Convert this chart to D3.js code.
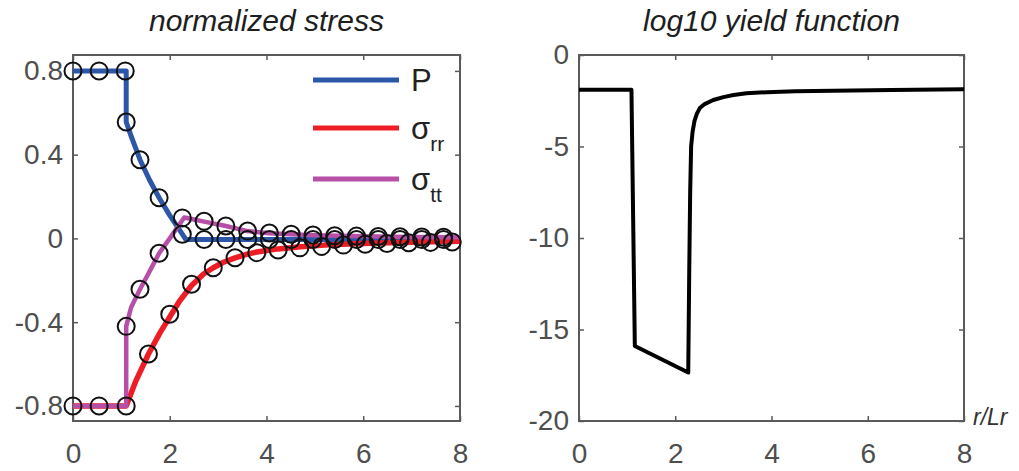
<!DOCTYPE html>
<html lang="en">
<head>
<meta charset="UTF-8">
<title>normalized stress / log10 yield function</title>
<script src="https://cdn.jsdelivr.net/npm/d3@7"></script>
<style>
    body { margin: 0; background: #ffffff; }
    svg { display: block; font-family: "Liberation Sans", Arial, sans-serif; }
    .tick text { fill: #4e4e4e; font-size: 28px; }
    .tick line { stroke: #5a5a5a; stroke-width: 1.5px; }
    .title { font-style: italic; font-size: 30px; fill: #1e1e1e; }
</style>
</head>
<body>
<svg id="chart" width="1019" height="471"></svg>
<script>
// ---- data ----
// left panel: lines
const pR      = [0, 1.1, 1.1, 1.2, 1.385, 1.58, 1.78, 2.0, 2.26, 2.33, 3, 4, 5, 6, 7, 8];
const pVal    = [0.8, 0.8, 0.556, 0.49, 0.376, 0.28, 0.194, 0.11, 0.02, -0.005, -0.005, -0.005, -0.005, -0.005, -0.005, -0.005];
const srrR    = [0, 1.1, 1.3, 1.56, 1.8, 2.0, 2.2, 2.45, 2.7, 2.9, 3.1, 3.35, 3.6, 3.8, 4.24, 4.7, 5.2, 5.8, 6.5, 7.2, 8];
const srrVal  = [-0.8, -0.8, -0.68, -0.552, -0.45, -0.375, -0.3, -0.225, -0.17, -0.14, -0.115, -0.093, -0.075, -0.065, -0.05, -0.04, -0.032, -0.026, -0.021, -0.017, -0.014];
const sttR    = [0, 1.1, 1.1, 1.2, 1.385, 1.6, 1.78, 2.0, 2.3, 2.5, 2.71, 3.16, 3.61, 4.06, 4.5, 5, 6, 7, 8];
const sttVal  = [-0.8, -0.8, -0.42, -0.33, -0.243, -0.15, -0.071, 0.0, 0.1, 0.09, 0.08, 0.059, 0.035, 0.025, 0.02, 0.015, 0.01, 0.007, 0.005];

// left panel: circle markers
const pMarkR    = [0, 0.54, 1.08, 1.1, 1.385, 1.78, 2.26, 2.71, 3.16, 3.61, 4.06, 4.51, 4.96, 5.41, 5.86, 6.31, 6.76, 7.21, 7.66];
const pMarkVal  = [0.8, 0.8, 0.8, 0.556, 0.376, 0.194, 0.02, -0.005, -0.005, -0.005, -0.005, -0.005, -0.005, -0.005, -0.005, -0.005, -0.005, -0.005, -0.005];
const srrMarkR  = [0, 0.54, 1.1, 1.56, 2.0, 2.45, 2.9, 3.35, 3.8, 4.24, 4.69, 5.14, 5.59, 6.04, 6.49, 6.94, 7.39, 7.84];
const srrMarkVal= [-0.8, -0.8, -0.8, -0.552, -0.362, -0.219, -0.14, -0.092, -0.068, -0.055, -0.045, -0.038, -0.032, -0.028, -0.024, -0.021, -0.019, -0.017];
const sttMarkR  = [1.1, 1.385, 1.78, 2.26, 2.71, 3.16, 3.61, 4.06, 4.51, 4.96, 5.41, 5.86, 6.31, 6.76, 7.21, 7.66];
const sttMarkVal= [-0.42, -0.243, -0.071, 0.098, 0.082, 0.059, 0.035, 0.026, 0.02, 0.016, 0.013, 0.011, 0.009, 0.008, 0.007, 0.006];

// right panel: log10 yield function
const yfR   = [0, 1.09, 1.16, 2.27, 2.29, 2.31, 2.33, 2.36, 2.40, 2.45, 2.51, 2.6, 2.79, 3.0, 3.21, 3.48, 3.9, 4.5, 5.28, 6.5, 8];
const yfVal = [-1.9, -1.9, -15.9, -17.35, -12, -7.5, -5.0, -4.2, -3.6, -3.2, -2.9, -2.7, -2.46, -2.3, -2.19, -2.09, -2.03, -1.98, -1.95, -1.91, -1.87];

const xTicks     = [0, 2, 4, 6, 8];
const leftTicks  = [-0.8, -0.4, 0, 0.4, 0.8];
const leftLabels = ["-0.8", "-0.4", "0", "0.4", "0.8"];
const rightTicks = [-20, -15, -10, -5, 0];

const legendNames = ["P", "σ", "σ"];
const legendSubs  = ["", "rr", "tt"];
const colors = { p: "#2c56a7", srr: "#ee1d25", stt: "#b74fa9" };

const svg = d3.select("#chart");

// axes boxes
const L = { left: 73, right: 460, top: 55, bottom: 421 };
const R = { left: 579, right: 964, top: 55, bottom: 421 };

const xL = d3.scaleLinear().domain([0, 8]).range([L.left, L.right]);
const yL = d3.scaleLinear().domain([-0.872, 0.876]).range([L.bottom, L.top]);
const xR = d3.scaleLinear().domain([0, 8]).range([R.left, R.right]);
const yR = d3.scaleLinear().domain([-20, 0]).range([R.bottom, R.top]);

const plain = d => String(d);   // hyphen minus like the original

function drawFrame(b, x, y, yt, yFmt) {
    const g = svg.append("g");
    g.append("g").attr("transform", `translate(0,${b.bottom})`)
        .call(d3.axisBottom(x).tickValues(xTicks).tickSize(-5).tickSizeOuter(0).tickPadding(22).tickFormat(plain));
    g.append("g").attr("transform", `translate(0,${b.top})`)
        .call(d3.axisTop(x).tickValues(xTicks).tickSize(-5).tickSizeOuter(0).tickFormat(""));
    g.append("g").attr("transform", `translate(${b.left},0)`)
        .call(d3.axisLeft(y).tickValues(yt).tickSize(-5).tickSizeOuter(0).tickPadding(10).tickFormat(yFmt));
    g.append("g").attr("transform", `translate(${b.right},0)`)
        .call(d3.axisRight(y).tickValues(yt).tickSize(-5).tickSizeOuter(0).tickFormat(""));
    g.selectAll(".domain").remove();
    g.append("rect")
        .attr("x", b.left).attr("y", b.top)
        .attr("width", b.right - b.left).attr("height", b.bottom - b.top)
        .attr("fill", "none").attr("stroke", "#5a5a5a").attr("stroke-width", 2);
    return g;
}

drawFrame(L, xL, yL, leftTicks, (d, i) => leftLabels[i]);
drawFrame(R, xR, yR, rightTicks, plain);

// titles
svg.append("text").attr("class", "title")
    .attr("x", (L.left + L.right) / 2).attr("y", 31).attr("text-anchor", "middle")
    .text("normalized stress");
svg.append("text").attr("class", "title")
    .attr("x", (R.left + R.right) / 2).attr("y", 31).attr("text-anchor", "middle")
    .text("log10 yield function");
svg.append("text")
    .attr("x", 973).attr("y", 425)
    .attr("font-size", 23).attr("font-style", "italic").attr("fill", "#333")
    .text("r/Lr");

// left lines
const lineLin = d3.line().x(d => xL(d[0])).y(d => yL(d[1]));
const series = [
    { r: pR, v: pVal, c: colors.p, w: 5 },
    { r: srrR, v: srrVal, c: colors.srr, w: 5.5 },
    { r: sttR, v: sttVal, c: colors.stt, w: 4.5 }
];
series.forEach(s => {
    svg.append("path")
        .datum(s.r.map((r, i) => [r, s.v[i]]))
        .attr("d", lineLin)
        .attr("fill", "none")
        .attr("stroke", s.c)
        .attr("stroke-width", s.w)
        .attr("stroke-linejoin", "round");
});

// markers
const marks = [
    { r: pMarkR, v: pMarkVal },
    { r: srrMarkR, v: srrMarkVal },
    { r: sttMarkR, v: sttMarkVal }
];
marks.forEach(m => {
    svg.append("g").selectAll("circle")
        .data(m.r.map((r, i) => [r, m.v[i]]))
        .join("circle")
        .attr("cx", d => xL(d[0]))
        .attr("cy", d => yL(d[1]))
        .attr("r", 8.5)
        .attr("fill", "none")
        .attr("stroke", "#111")
        .attr("stroke-width", 2);
});

// legend
const leg = svg.append("g");
const legY = [80, 128, 179];
const legC = [colors.p, colors.srr, colors.stt];
legendNames.forEach((n, i) => {
    leg.append("line")
        .attr("x1", 313).attr("x2", 399)
        .attr("y1", legY[i]).attr("y2", legY[i])
        .attr("stroke", legC[i]).attr("stroke-width", 5);
    const t = leg.append("text")
        .attr("x", 411).attr("y", legY[i] + 11)
        .attr("font-size", 31).attr("fill", "#222");
    t.append("tspan").text(n);
    if (legendSubs[i]) {
        t.append("tspan").attr("font-size", 21).attr("dy", 12).text(legendSubs[i]);
    }
});

// right line
const lineR = d3.line().x(d => xR(d[0])).y(d => yR(d[1]));
svg.append("path")
    .datum(yfR.map((r, i) => [r, yfVal[i]]))
    .attr("d", lineR)
    .attr("fill", "none")
    .attr("stroke", "#000")
    .attr("stroke-width", 4)
    .attr("stroke-linejoin", "round");
</script>
</body>
</html>
